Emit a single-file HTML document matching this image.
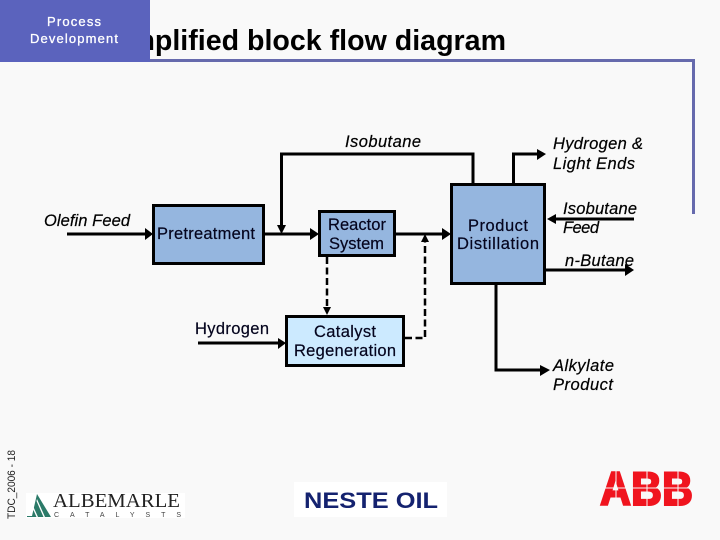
<!DOCTYPE html>
<html>
<head>
<meta charset="utf-8">
<style>
html,body{margin:0;padding:0;width:720px;height:540px;overflow:hidden;background:#f9f9f9}
svg{display:block}
text{font-family:"Liberation Sans",sans-serif;fill:#000}
.i{font-style:italic;font-size:16.5px;stroke:#000;stroke-width:.2}
.n{font-size:16.5px;fill:#05051e;stroke:#05051e;stroke-width:.2}
.w{font-size:13px;fill:#fff;stroke:#fff;stroke-width:.3}
</style>
</head>
<body>
<svg width="720" height="540" viewBox="0 0 720 540" xmlns="http://www.w3.org/2000/svg">
<rect width="720" height="540" fill="#f9f9f9"/>
<path d="M150 60.5H693.500V214" fill="none" stroke="#666aad" stroke-width="3"/>
<text x="506" y="50" text-anchor="end" style="font-size:28.6px;font-weight:bold">Simplified block flow diagram</text>
<rect x="0" y="0" width="150" height="62" fill="#5b63bd"/>
<text class="w" x="47" y="26" textLength="54" lengthAdjust="spacing">Process</text>
<text class="w" x="30" y="43" textLength="88" lengthAdjust="spacing">Development</text>

<g fill="none" stroke="#000" stroke-width="3">
<path d="M67 234H146"/>
<path d="M265 234H311"/>
<path d="M396 234H443"/>
<path d="M473 183V154H281.500V226"/>
<path d="M513.500 183V154H539"/>
<path d="M554 219H634"/>
<path d="M546 270H626"/>
<path d="M496 285V370H542"/>
<path d="M198 343H278"/>
<path d="M327 257V308" stroke-dasharray="7 3.500" stroke-width="2.500"/>
<path d="M405 338H425V242" stroke-dasharray="7 3.500" stroke-width="2.500"/>
</g>
<g fill="#000">
<path d="M145 228L153 234L145 240Z"/>
<path d="M310 228L319 234L310 240Z"/>
<path d="M442 228L451 234L442 240Z"/>
<path d="M277 225H286L281.500 234Z"/>
<path d="M537 149L546 154L537 160Z"/>
<path d="M556 214L547 219L556 224Z"/>
<path d="M278 338L286 343L278 349Z"/>
<path d="M540 365L550 370L540 376Z"/>
<path d="M323 307H331L327 315Z"/>
<path d="M421 242H429L425 234Z"/>
</g>

<rect x="153.500" y="205.500" width="110" height="58" fill="#95b6df" stroke="#000" stroke-width="3"/>
<rect x="319.500" y="211.500" width="75" height="44" fill="#95b6df" stroke="#000" stroke-width="3"/>
<rect x="451.500" y="184.500" width="93" height="99" fill="#95b6df" stroke="#000" stroke-width="3"/>
<rect x="286.500" y="316.500" width="117" height="49" fill="#cceaff" stroke="#000" stroke-width="3"/>

<text class="n" x="157" y="239" textLength="98">Pretreatment</text>
<text class="n" x="328" y="230" textLength="58">Reactor</text>
<text class="n" x="329" y="249" textLength="55">System</text>
<text class="n" x="468" y="231" textLength="60">Product</text>
<text class="n" x="457" y="249" textLength="82">Distillation</text>
<text class="n" x="314" y="337" textLength="62">Catalyst</text>
<text class="n" x="294" y="356" textLength="102">Regeneration</text>
<text class="n" x="195" y="334" textLength="74">Hydrogen</text>

<text class="i" x="44" y="226" textLength="86">Olefin Feed</text>
<text class="i" x="345" y="147" textLength="76">Isobutane</text>
<text class="i" x="553" y="149" textLength="90">Hydrogen &amp;</text>
<text class="i" x="553" y="169" textLength="82">Light Ends</text>
<text class="i" x="563" y="214" textLength="74">Isobutane</text>
<text class="i" x="563" y="233" textLength="36">Feed</text>
<text class="i" x="565" y="266" textLength="69">n-Butane</text>
<text class="i" x="553" y="371" textLength="61">Alkylate</text>
<text class="i" x="553" y="390" textLength="60">Product</text>
<path d="M625 264L634 270L625 276Z" fill="#000"/>

<text transform="translate(15 519) rotate(-90)" style="font-size:11px;fill:#222" textLength="69" lengthAdjust="spacingAndGlyphs">TDC_2006 - 18</text>

<rect x="26" y="493" width="159" height="25" fill="#fff"/>
<path d="M32 516L37 494L51 517H33Z" fill="#2b7a68"/>
<path d="M37 499L45 517H43.500L36.500 501ZM33.500 507L38 517H36.500L33 509Z" fill="#fff"/>
<path d="M27 516.500H36" stroke="#2b7a68" stroke-width="1"/>
<text x="53" y="507" textLength="127" lengthAdjust="spacingAndGlyphs" style="font-family:'Liberation Serif',serif;font-size:20px;fill:#222">ALBEMARLE</text>
<text x="54" y="517" textLength="127" style="font-size:7px;fill:#444">CATALYSTS</text>

<rect x="294" y="482" width="153" height="35" fill="#fff"/>
<text x="304" y="508" textLength="134" lengthAdjust="spacingAndGlyphs" style="font-size:22px;font-weight:bold;fill:#14226f">NESTE OIL</text>

<text x="600" y="505" textLength="93" lengthAdjust="spacingAndGlyphs" style="font-size:47px;font-weight:bold;fill:#f0141e;stroke:#f0141e;stroke-width:2">ABB</text>
<path d="M600 488H694M616 469V506M647 469V506M678 469V506" stroke="#f9f9f9" stroke-width="1" fill="none"/>
</svg>
</body>
</html>
